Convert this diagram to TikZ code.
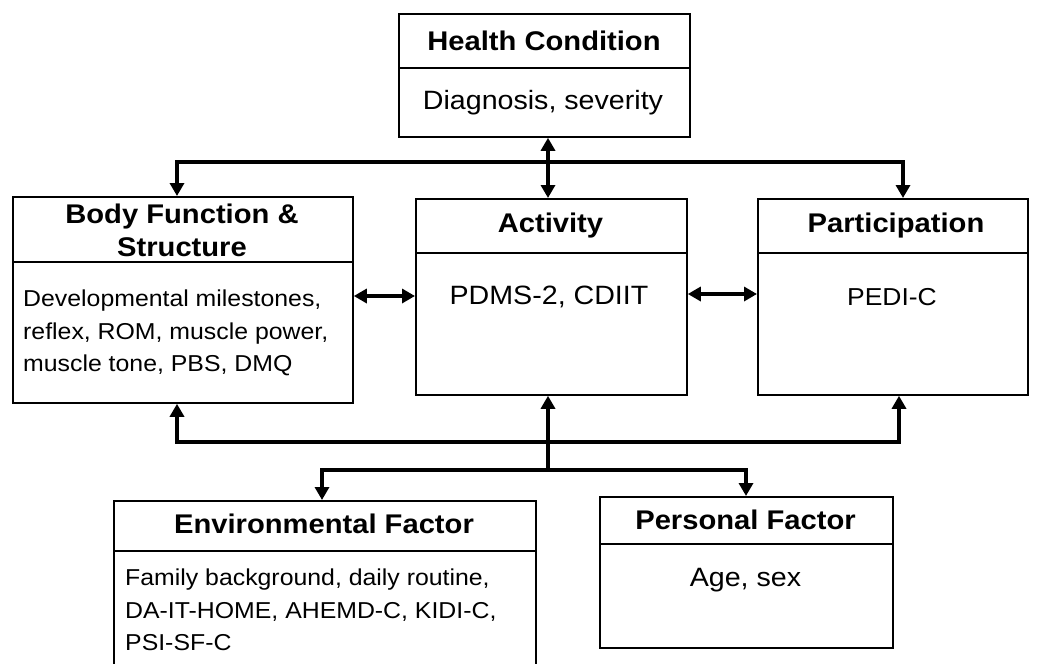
\documentclass[tikz,border=0pt]{standalone}
\usepackage{fontspec}
\setmainfont{Liberation Sans}[FakeStretch=1.08]
\usetikzlibrary{arrows.meta}
\begin{document}
\begin{tikzpicture}[x=1pt,y=-1pt,
  box/.style={draw, line width=1.8pt, inner sep=0pt, anchor=north west},
  ttl/.style={font=\bfseries\fontsize{27}{33}\selectfont, align=center, inner sep=0pt},
  txt/.style={font=\fontsize{23}{32.5}\selectfont, inner sep=0pt},
  bigtxt/.style={font=\fontsize{26.5}{32.5}\selectfont, inner sep=0pt},
  divider/.style={line width=1.8pt},
  tip/.tip={Triangle[length=13pt,width=14pt]},
  conn/.style={line width=4.2pt},
  both/.style={conn, tip-tip},
  fwd/.style={conn, -tip}]
\useasboundingbox[fill=white] (0,0) rectangle (1039,664);
% boxes
\node[box, minimum width=291pt, minimum height=123pt] (hc) at (398,13) {};
\node[box, minimum width=340pt, minimum height=206pt] (body) at (12,196) {};
\node[box, minimum width=271pt, minimum height=196pt] (act) at (415,198) {};
\node[box, minimum width=270pt, minimum height=196pt] (part) at (757,198) {};
\node[box, minimum width=422pt, minimum height=175pt] (env) at (113,500) {};
\node[box, minimum width=293pt, minimum height=151pt] (pers) at (599,496) {};
% dividers
\draw[divider] (hc.west |- 0,68) -- (hc.east |- 0,68);
\draw[divider] (body.west |- 0,262) -- (body.east |- 0,262);
\draw[divider] (act.west |- 0,253) -- (act.east |- 0,253);
\draw[divider] (part.west |- 0,253) -- (part.east |- 0,253);
\draw[divider] (env.west |- 0,551) -- (env.east |- 0,551);
\draw[divider] (pers.west |- 0,544) -- (pers.east |- 0,544);
% texts
\node[ttl] (hct) at (544,41) {Health Condition};
\node[bigtxt] (hcb) at (543,103) {Diagnosis, severity};
\node[ttl] (bodyt) at (182,230) {Body Function \&\\Structure};
\node[txt, align=left, anchor=west] (bodyb) at (23,333) {Developmental milestones,\\reflex, ROM, muscle power,\\muscle tone, PBS, DMQ};
\node[ttl] (actt) at (550.5,226) {Activity};
\node[bigtxt] (actb) at (549,297) {PDMS-2, CDIIT};
\node[ttl] (partt) at (896,226) {Participation};
\node[bigtxt, font=\fontsize{24.5}{30}\selectfont] (partb) at (892,297) {PEDI-C};
\node[ttl] (envt) at (324,524) {Environmental Factor};
\node[txt, align=left, anchor=west] (envb) at (125,610) {Family background, daily routine,\\DA-IT-HOME, AHEMD-C, KIDI-C,\\PSI-SF-C};
\node[ttl] (perst) at (745.5,520) {Personal Factor};
\node[bigtxt] (persb) at (745.5,580) {Age, sex};
% connector junctions
\coordinate (tl) at (177,162);
\coordinate (tr) at (903,162);
\coordinate (bl) at (177,442);
\coordinate (br) at (899,442);
\coordinate (ml) at (548,470);
\coordinate (el) at (322,470);
\coordinate (pr) at (746,470);
\coordinate (hy) at (0,296);
\coordinate (hy2) at (0,294);
% connectors
\draw[both] (tl |- body.north) -- (tl) -- (tr) -- (tr |- part.north);
\draw[both] (ml |- hc.south) -- (ml |- act.north);
\draw[both] (body.east |- hy) -- (act.west |- hy);
\draw[both] (act.east |- hy2) -- (part.west |- hy2);
\draw[both] (bl |- body.south) -- (bl) -- (br) -- (br |- part.south);
\draw[fwd] (ml) -- (ml |- act.south);
\draw[both] (el |- env.north) -- (el) -- (pr) -- (pr |- pers.north);
\end{tikzpicture}
\end{document}
